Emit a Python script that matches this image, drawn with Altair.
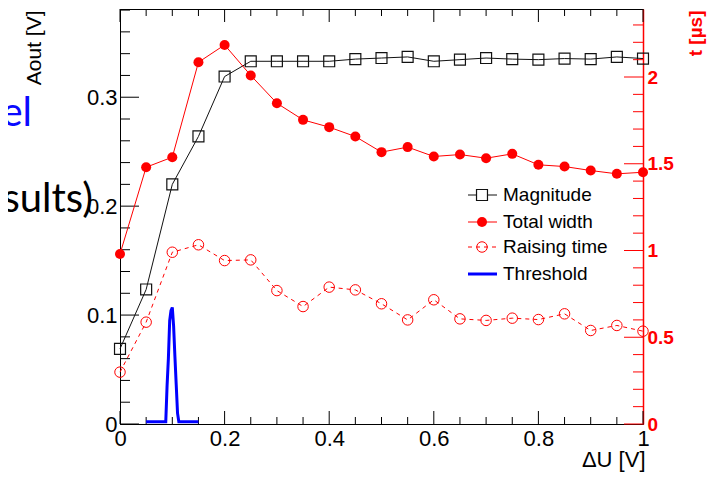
import altair as alt
import pandas as pd

# ---------------- data ----------------
x_vals = [0.0, 0.05, 0.1, 0.15, 0.2, 0.25, 0.3, 0.35, 0.4, 0.45, 0.5,
          0.55, 0.6, 0.65, 0.7, 0.75, 0.8, 0.85, 0.9, 0.95, 1.0]
magnitude = [0.069, 0.1235, 0.220, 0.264, 0.319, 0.333, 0.333, 0.333, 0.333, 0.335, 0.336,
             0.337, 0.333, 0.3345, 0.336, 0.335, 0.3345, 0.3355, 0.335, 0.337, 0.3355]
total_width = [0.98, 1.48, 1.538, 2.085, 2.185, 2.009, 1.849, 1.753, 1.711, 1.657, 1.567,
               1.596, 1.542, 1.553, 1.532, 1.557, 1.494, 1.484, 1.461, 1.442, 1.451]
rise_time = [0.299, 0.587, 0.990, 1.033, 0.942, 0.946, 0.769, 0.677, 0.789, 0.773, 0.693,
             0.600, 0.716, 0.606, 0.597, 0.610, 0.602, 0.635, 0.539, 0.568, 0.535]

thr_x = [0.05, 0.0875, 0.09, 0.0925, 0.095, 0.0975, 0.1, 0.1025, 0.105, 0.1075, 0.11, 0.1125, 0.15]
thr_y = [0.002, 0.002, 0.035, 0.060, 0.095, 0.104, 0.107, 0.090, 0.062, 0.036, 0.010, 0.002, 0.002]

x_major = [0.0, 0.2, 0.4, 0.6, 0.8, 1.0]
x_minor = [0.05, 0.1, 0.15, 0.25, 0.3, 0.35, 0.45, 0.5, 0.55, 0.65, 0.7, 0.75, 0.85, 0.9, 0.95]
left_major = [0.0, 0.1, 0.2, 0.3]
left_minor = [0.02, 0.04, 0.06, 0.08, 0.12, 0.14, 0.16, 0.18, 0.22, 0.24, 0.26, 0.28,
              0.32, 0.34, 0.36, 0.38]
right_major = [0.0, 0.5, 1.0, 1.5, 2.0]
right_minor = [0.1, 0.2, 0.3, 0.4, 0.6, 0.7, 0.8, 0.9, 1.1, 1.2, 1.3, 1.4, 1.6, 1.7, 1.8,
               1.9, 2.1, 2.2, 2.3]

legend_labels = ["Magnitude", "Total width", "Raising time", "Threshold"]

W, H = 523, 415
FONT = "Liberation Sans"

df_mag = pd.DataFrame({"x": x_vals, "y": magnitude})
df_tw = pd.DataFrame({"x": x_vals, "y": total_width})
df_rt = pd.DataFrame({"x": x_vals, "y": rise_time})
df_thr = pd.DataFrame({"x": thr_x, "y": thr_y})

xs = alt.Scale(domain=[0, 1], nice=False, zero=False)
ysl = alt.Scale(domain=[0, 0.381], nice=False)
ysr = alt.Scale(domain=[0, 2.392], nice=False)

x_axis = alt.Axis(title="ΔU [V]", values=x_major, format="~g", ticks=False, tickSize=0,
                  grid=False, domainColor="black", labelFontSize=22, labelPadding=4,
                  labelFlush=False, labelColor="black", titleFontSize=22,
                  titleFontWeight="normal", titleColor="black", titleAlign="right",
                  titleBaseline="middle", titleX=525, titleY=35, titleAngle=0)
yl_axis = alt.Axis(title="Aout [V]", values=left_major, format="~g", ticks=False, tickSize=0,
                   grid=False, domainColor="black", labelFontSize=22, labelPadding=3,
                   labelFlush=False, labelColor="black", titleFontSize=21,
                   titleFontWeight="normal", titleColor="black", titleAngle=270,
                   titleAlign="right", titleBaseline="middle", titleX=-86, titleY=1)
yr_axis = alt.Axis(orient="right", title="t [µs]", values=right_major, format="~g",
                   ticks=False, tickSize=0, grid=False, domainColor="red", domainWidth=1.5,
                   labelColor="red", labelFontWeight="bold", labelFontSize=19,
                   labelPadding=4, labelFlush=False, titleColor="red",
                   titleFontWeight="bold", titleFontSize=19, titleAngle=270,
                   titleAlign="right", titleBaseline="middle", titleX=52, titleY=1)

X = alt.X("x:Q", scale=xs, axis=x_axis)
YL = alt.Y("y:Q", scale=ysl, axis=yl_axis)
YR = alt.Y("y:Q", scale=ysr, axis=yr_axis)

# ---------------- left-axis group ----------------
mag_line = alt.Chart(df_mag).mark_line(color="#111111", strokeWidth=1).encode(x=X, y=YL)
mag_pts = alt.Chart(df_mag).mark_point(shape="square", size=120, filled=False,
                                       color="#111111", strokeWidth=1.2, opacity=1).encode(x=X, y=YL)
thr_line = alt.Chart(df_thr).mark_line(color="#0000ff", strokeWidth=3).encode(x=X, y=YL)

df_lmaj = pd.DataFrame({"y": left_major})
df_lmin = pd.DataFrame({"y": left_minor})
lt_maj = alt.Chart(df_lmaj).mark_rule(color="black", strokeWidth=1).encode(
    y=YL, x=alt.value(0), x2=alt.value(19))
lt_min = alt.Chart(df_lmin).mark_rule(color="black", strokeWidth=1).encode(
    y=YL, x=alt.value(0), x2=alt.value(10))

df_xmaj = pd.DataFrame({"x": x_major})
df_xmin = pd.DataFrame({"x": x_minor})
xb_maj = alt.Chart(df_xmaj).mark_rule(color="black", strokeWidth=1).encode(
    x=X, y=alt.value(H), y2=alt.value(H - 13))
xb_min = alt.Chart(df_xmin).mark_rule(color="black", strokeWidth=1).encode(
    x=X, y=alt.value(H), y2=alt.value(H - 7))
xt_maj = alt.Chart(df_xmaj).mark_rule(color="black", strokeWidth=1).encode(
    x=X, y=alt.value(0), y2=alt.value(13))
xt_min = alt.Chart(df_xmin).mark_rule(color="black", strokeWidth=1).encode(
    x=X, y=alt.value(0), y2=alt.value(7))

left = alt.layer(lt_maj, lt_min, xb_maj, xb_min, xt_maj, xt_min,
                 thr_line, mag_line, mag_pts)

# ---------------- right-axis group ----------------
tw_line = alt.Chart(df_tw).mark_line(color="#ff0000", strokeWidth=1).encode(x=X, y=YR)
tw_pts = alt.Chart(df_tw).mark_point(shape="circle", size=100, filled=True,
                                     color="#ff0000", opacity=1).encode(x=X, y=YR)
rt_line = alt.Chart(df_rt).mark_line(color="#ff0000", strokeWidth=1,
                                     strokeDash=[4, 4]).encode(x=X, y=YR)
rt_pts = alt.Chart(df_rt).mark_point(shape="circle", size=110, filled=False,
                                     color="#ff0000", strokeWidth=1, opacity=1).encode(x=X, y=YR)

df_rmaj = pd.DataFrame({"y": right_major})
df_rmin = pd.DataFrame({"y": right_minor})
rt_maj = alt.Chart(df_rmaj).mark_rule(color="red", strokeWidth=1).encode(
    y=YR, x=alt.value(W), x2=alt.value(W - 19))
rt_min = alt.Chart(df_rmin).mark_rule(color="red", strokeWidth=1).encode(
    y=YR, x=alt.value(W), x2=alt.value(W - 10))

right = alt.layer(rt_maj, rt_min, tw_line, tw_pts, rt_line, rt_pts)

# ---------------- legend (drawn inside the frame) ----------------
row_y = [186, 213, 238, 265]
LX0, LX1, LXM, LXT = 348, 377, 362, 383

def legend_line(i, color, width, dash=None):
    kw = dict(color=color, strokeWidth=width)
    if dash is not None:
        kw["strokeDash"] = dash
    return alt.Chart(pd.DataFrame({"label": [legend_labels[i]]})).mark_rule(**kw).encode(
        x=alt.value(LX0), x2=alt.value(LX1), y=alt.value(row_y[i]))

leg = [
    legend_line(0, "#111111", 1),
    alt.Chart(pd.DataFrame({"label": [legend_labels[0]]})).mark_point(
        shape="square", size=120, filled=True, fill="white", stroke="#111111",
        strokeWidth=1.2, opacity=1).encode(x=alt.value(LXM), y=alt.value(row_y[0])),
    legend_line(1, "#ff0000", 1),
    alt.Chart(pd.DataFrame({"label": [legend_labels[1]]})).mark_point(
        shape="circle", size=100, filled=True, color="#ff0000", opacity=1).encode(
        x=alt.value(LXM), y=alt.value(row_y[1])),
    legend_line(2, "#ff0000", 1, [4, 4]),
    alt.Chart(pd.DataFrame({"label": [legend_labels[2]]})).mark_point(
        shape="circle", size=110, filled=False, color="#ff0000", strokeWidth=1,
        opacity=1).encode(x=alt.value(LXM), y=alt.value(row_y[2])),
    legend_line(3, "#0000ff", 3),
]
df_leg = pd.DataFrame({"label": legend_labels, "ry": row_y})
leg_text = alt.Chart(df_leg).mark_text(align="left", baseline="middle", fontSize=19,
                                       font=FONT, color="black").encode(
    text="label:N", x=alt.value(LXT), y=alt.Y("ry:Q", scale=None))

# ---------------- text fragments from the slide behind ----------------
frag = pd.DataFrame({"t": ["el", "sults)"]})
el_txt = alt.Chart(frag.iloc[[0]]).mark_text(align="right", baseline="alphabetic",
                                             fontSize=40, font="Lato", color="#0a0aff").encode(
    text="t:N", x=alt.value(-88), y=alt.value(117))
sults_txt = alt.Chart(frag.iloc[[1]]).mark_text(align="right", baseline="alphabetic",
                                                fontSize=40, font="Lato", color="black").encode(
    text="t:N", x=alt.value(-27), y=alt.value(203))

chart = alt.layer(left, right, *leg, leg_text, el_txt, sults_txt).resolve_scale(
    y="independent"
).properties(
    width=W, height=H,
    padding={"left": 112, "top": 1, "right": 66, "bottom": 63},
    autosize=alt.AutoSizeParams(type="none"),
    background="white",
).configure_view(
    stroke="black", strokeWidth=1
).configure_axis(
    labelFont=FONT, titleFont=FONT
)

chart.save("out.html", embed_options={"renderer": "svg", "actions": False})
